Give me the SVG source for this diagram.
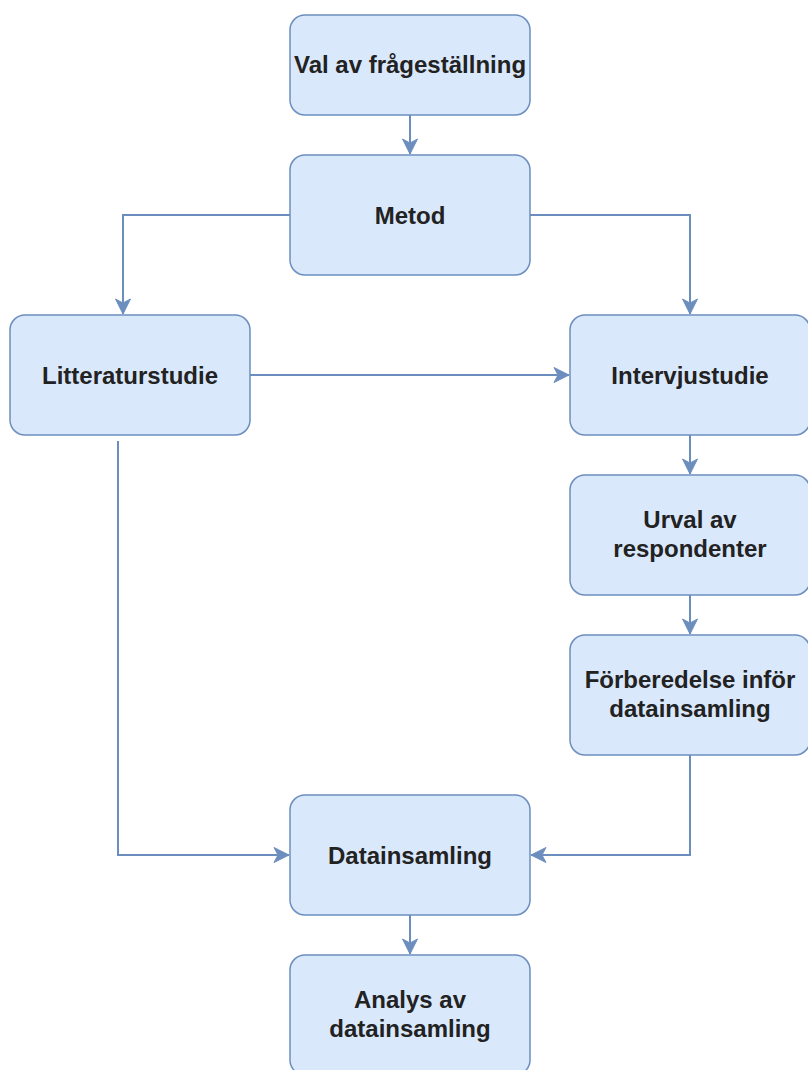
<svg xmlns="http://www.w3.org/2000/svg" width="808" height="1070" viewBox="0 0 808 1070">
<defs>
<style>
.box{fill:#dae8fc;stroke:#6c8ebf;stroke-width:1.5}
.lbl{font-family:"Liberation Sans",Arial,sans-serif;font-weight:bold;font-size:24px;fill:#222222;text-anchor:middle}
.edge{fill:none;stroke:#6c8ebf;stroke-width:2;marker-end:url(#arr)}
</style>
<marker id="arr" markerUnits="userSpaceOnUse" viewBox="-16 -9 17 18" refX="0" refY="0" markerWidth="17" markerHeight="18" orient="auto">
<path d="M0,0 L-15,-7.5 L-11,0 L-15,7.5 Z" fill="#6c8ebf" stroke="#6c8ebf" stroke-width="1"/>
</marker>
</defs>
<rect width="808" height="1070" fill="#ffffff"/>
<g id="connectors">
<path class="edge" d="M410,115 L410,154"/>
<path class="edge" d="M290,215 L123,215 L123,314"/>
<path class="edge" d="M530,215 L690,215 L690,314"/>
<path class="edge" d="M250,375 L569,375"/>
<path class="edge" d="M690,435 L690,474"/>
<path class="edge" d="M690,595 L690,634"/>
<path class="edge" d="M118,441 L118,855 L289,855"/>
<path class="edge" d="M690,755 L690,855 L531,855"/>
<path class="edge" d="M410,915 L410,954"/>
</g>
<g id="n1"><rect class="box" x="290" y="15" width="240" height="100" rx="15"/><text class="lbl" x="410" y="73">Val av frågeställning</text></g>
<g id="n2"><rect class="box" x="290" y="155" width="240" height="120" rx="15"/><text class="lbl" x="410" y="224">Metod</text></g>
<g id="n3"><rect class="box" x="10" y="315" width="240" height="120" rx="15"/><text class="lbl" x="130" y="384">Litteraturstudie</text></g>
<g id="n4"><rect class="box" x="570" y="315" width="240" height="120" rx="15"/><text class="lbl" x="690" y="384">Intervjustudie</text></g>
<g id="n5"><rect class="box" x="570" y="475" width="240" height="120" rx="15"/><text class="lbl" x="690" y="528">Urval av</text><text class="lbl" x="690" y="557">respondenter</text></g>
<g id="n6"><rect class="box" x="570" y="635" width="240" height="120" rx="15"/><text class="lbl" x="690" y="688">Förberedelse inför</text><text class="lbl" x="690" y="717">datainsamling</text></g>
<g id="n7"><rect class="box" x="290" y="795" width="240" height="120" rx="15"/><text class="lbl" x="410" y="864">Datainsamling</text></g>
<g id="n8"><rect class="box" x="290" y="955" width="240" height="120" rx="15"/><text class="lbl" x="410" y="1008">Analys av</text><text class="lbl" x="410" y="1037">datainsamling</text></g>
</svg>
